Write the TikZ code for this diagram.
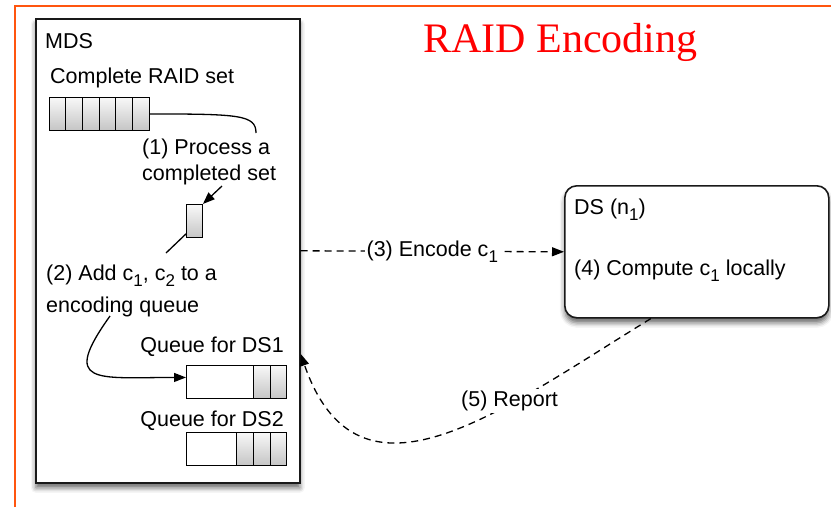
\documentclass[tikz,border=0pt]{standalone}
\usepackage{fontspec}
\setmainfont{Liberation Sans}
\newfontfamily\titlefont{Liberation Serif}
\usetikzlibrary{arrows.meta,shadows.blur,positioning}
\definecolor{frameorange}{RGB}{255,85,15}
\newcommand\subnum[1]{\raisebox{-6pt}{\fontsize{17}{17}\selectfont #1}}

\begin{document}
\begin{tikzpicture}[x=1pt,y=-1pt,
    every node/.style={font=\fontsize{21.5}{26}\selectfont, inner sep=0pt},
    txt/.style={anchor=base west},
    cell/.style={draw=black, line width=0.9pt, top color=gray!5, bottom color=gray!45},
    slot/.style={draw=black, line width=0.9pt, fill=white, minimum width=100pt, minimum height=33pt, anchor=north west},
    box/.style={draw=black!90, line width=1.6pt, fill=white, blur shadow={shadow xshift=0pt, shadow yshift=-5pt, shadow blur radius=5pt, shadow opacity=60}},
    link/.style={line width=1.3pt},
    tip/.style={-{Triangle[length=12pt,width=9pt]}},
    dashlink/.style={link, dash pattern=on 7pt off 5pt}]
\useasboundingbox (0,0) rectangle (831,507);
\draw[frameorange, line width=2.5pt] (15,507) -- (15,6) -- (831,6);
\node[font=\titlefont\fontsize{42}{42}\selectfont, text=red, anchor=base west] (title) at (423,52) {RAID Encoding};

% metadata server
\node[box, minimum width=264pt, minimum height=464pt, anchor=north west] (mds) at (35,18) {};
\node[txt] (mdslbl) at (45,48) {MDS};
\node[txt] (setlbl) at (50,83) {Complete RAID set};
\node[slot] (raidset) at (49,97) {};
\foreach \i in {0,...,5}
    \draw[cell] ([xshift=\i*16.667pt]raidset.north west) rectangle +(16.667,33);
\node[txt, align=left] (steponelbl) at (142,180) {(1) Process a\\completed set};
\node[cell, minimum width=16pt, minimum height=33pt, anchor=north west] (chunk) at (186,204) {};
\node[txt, align=left] (steptwolbl) at (46,312) {(2) Add c\subnum{1}, c\subnum{2} to a\\[6pt]encoding queue};
\node[txt, anchor=base east] (qonelbl) at (284,352) {Queue for DS1};
\node[slot] (queueone) at (186,365) {};
\foreach \i in {1,2}
    \draw[cell] ([xshift=-\i*16.667pt]queueone.north east) rectangle +(16.667,33);
\node[txt, anchor=base east] (qtwolbl) at (284,426) {Queue for DS2};
\node[slot] (queuetwo) at (186,432) {};
\foreach \i in {1,2,3}
    \draw[cell] ([xshift=-\i*16.667pt]queuetwo.north east) rectangle +(16.667,33);

\draw[link] (raidset.east) .. controls +(90,0) and +(0,-18) .. ([shift={(114,-47)}]steponelbl.base west);
\draw[link, tip] ([shift={(80,6)}]steponelbl.base west) -- (chunk.north east);
\draw[link] ([yshift=4pt]chunk.south west) -- ([shift={(120,-59)}]steptwolbl.base west);
\draw[link, tip] ([shift={(64,4)}]steptwolbl.base west) .. controls +(-50,70) and +(-90,0) .. ([yshift=4.5pt]queueone.west);

% data server
\node[box, rounded corners=12pt, minimum width=264pt, minimum height=132pt, anchor=north west] (ds) at (564,185) {};
\node[txt] (dslbl) at (574,214) {DS (n\subnum{1})};
\node[txt] (computelbl) at (574,275) {(4) Compute c\subnum{1} locally};

\draw[dashlink, tip] (mds.east) -- node[fill=white, inner xsep=2pt] (encodelbl) {(3) Encode c\subnum{1}} (ds.west);
\draw[dashlink, tip] ([xshift=-46pt]ds.south) .. controls +(-150,92) and +(58,167) .. node[pos=0.33, fill=white, inner sep=2pt, xshift=2pt, yshift=4pt] (reportlbl) {(5) Report} ([yshift=-103pt]mds.east);
\end{tikzpicture}
\end{document}
